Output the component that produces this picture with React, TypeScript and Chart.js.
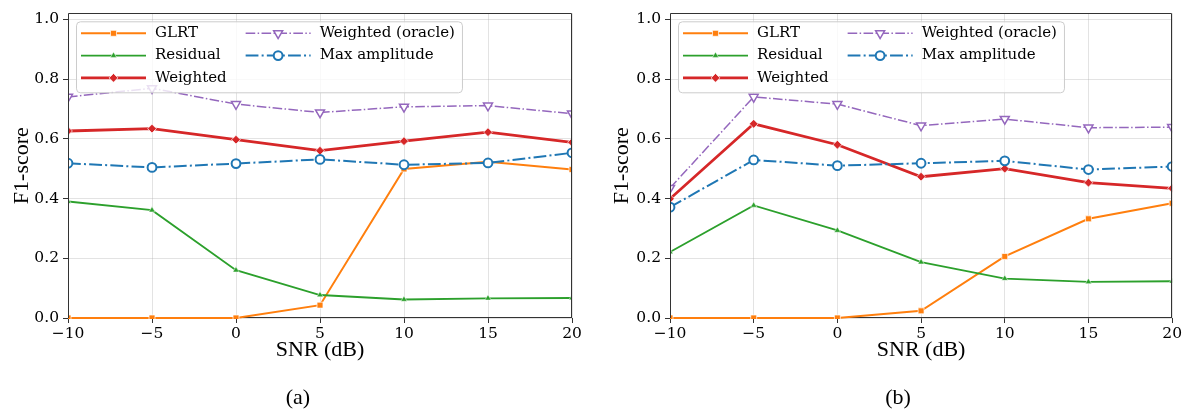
import React, { useEffect, useRef } from "react";
import { Chart, registerables } from "chart.js";
import { drawPoint } from "chart.js/helpers";

Chart.register(...registerables);

// ---------- data ----------
const SNR = [-10, -5, 0, 5, 10, 15, 20];
const X_TICKS = [-10, -5, 0, 5, 10, 15, 20];
const Y_TICKS = [0, 0.2, 0.4, 0.6, 0.8, 1.0];
const SERIES_LABELS = ["GLRT", "Residual", "Weighted", "Weighted (oracle)", "Max amplitude"];

const A_GLRT = [0, 0, 0, 0.043, 0.499, 0.523, 0.497];
const A_RESIDUAL = [0.39, 0.361, 0.16, 0.077, 0.062, 0.066, 0.067];
const A_WEIGHTED = [0.626, 0.634, 0.597, 0.56, 0.592, 0.622, 0.588];
const A_ORACLE = [0.74, 0.769, 0.716, 0.688, 0.707, 0.711, 0.684];
const A_MAXAMP = [0.518, 0.504, 0.517, 0.531, 0.513, 0.519, 0.553];

const B_GLRT = [0, 0, 0, 0.024, 0.206, 0.332, 0.384];
const B_RESIDUAL = [0.221, 0.377, 0.293, 0.187, 0.132, 0.121, 0.123];
const B_WEIGHTED = [0.399, 0.65, 0.58, 0.473, 0.5, 0.453, 0.434];
const B_ORACLE = [0.435, 0.74, 0.716, 0.644, 0.666, 0.637, 0.639];
const B_MAXAMP = [0.371, 0.529, 0.51, 0.518, 0.526, 0.497, 0.507];

const X_TITLE = "SNR (dB)";
const Y_TITLE = "F1-score";

// ---------- styles ----------
const STYLES = [
  { color: "#ff7f0e", width: 2, dash: [], pointStyle: "rect", radius: 4.2, fill: "#ff7f0e", edge: "#ffffff", edgeW: 0.7, rotation: 0 },
  { color: "#2ca02c", width: 1.8, dash: [], pointStyle: "triangle", radius: 3.6, fill: "#2ca02c", edge: "#ffffff", edgeW: 0.5, rotation: 0 },
  { color: "#d62728", width: 2.8, dash: [], pointStyle: "rectRot", radius: 4.4, fill: "#d62728", edge: "#ffffff", edgeW: 0.7, rotation: 0 },
  { color: "#9467bd", width: 1.5, dash: [9.6, 2.4, 1.5, 2.4], pointStyle: "triangle", radius: 5.2, fill: "#ffffff", edge: "#9467bd", edgeW: 1.5, rotation: 180 },
  { color: "#1f77b4", width: 2, dash: [12.8, 3.2, 2, 3.2], pointStyle: "circle", radius: 4.4, fill: "#ffffff", edge: "#1f77b4", edgeW: 2, rotation: 0 },
];

const TICK_FONT = { family: '"DejaVu Serif"', size: 15.5 };
const TITLE_FONT = { family: '"Liberation Serif"', size: 22 };

const fmtX = (v: number) => (v < 0 ? "\u2212" + Math.abs(v) : String(v));

const framePlugin = {
  id: "frame",
  beforeDatasetsDraw(chart: any) {
    const { ctx, chartArea: ca } = chart;
    ctx.save();
    ctx.strokeStyle = "#333333";
    ctx.lineWidth = 1;
    ctx.setLineDash([]);
    const b = Math.round(ca.bottom) - 0.5;
    ctx.beginPath();
    ctx.moveTo(Math.round(ca.left), b);
    ctx.lineTo(Math.round(ca.right), b);
    ctx.stroke();
    ctx.restore();
  },
  afterDatasetsDraw(chart: any) {
    const { ctx, chartArea: ca } = chart;
    ctx.save();
    ctx.strokeStyle = "#333333";
    ctx.lineWidth = 1;
    ctx.setLineDash([]);
    const l = Math.round(ca.left) + 0.5;
    const r = Math.round(ca.right) - 0.5;
    const t = Math.round(ca.top) + 0.5;
    const b = Math.round(ca.bottom);
    ctx.beginPath();
    ctx.moveTo(l, b);
    ctx.lineTo(l, t);
    ctx.lineTo(r, t);
    ctx.lineTo(r, b);
    ctx.stroke();
    ctx.restore();
  },
};

const legendPlugin = {
  id: "mplLegend",
  afterDraw(chart: any) {
    const { ctx, chartArea: ca } = chart;
    const ds = chart.data.datasets;
    ctx.save();
    ctx.font = '15px "DejaVu Serif"';
    const columns = [[0, 1, 2], [3, 4]];
    const handleLen = 65;
    const handleGap = 9;
    const padL = 5;
    const padR = 7;
    const colGap = 19;
    const rowH = 22.3;
    const firstRow = 12;
    const boxX = ca.left + 8;
    const boxY = ca.top + 8;
    const colW = columns.map((c) => handleLen + handleGap + Math.max(...c.map((i) => ctx.measureText(ds[i].label).width)));
    const boxW = padL + colW[0] + colGap + colW[1] + padR;
    const boxH = 71;
    ctx.beginPath();
    ctx.roundRect(boxX + 0.5, boxY + 0.5, boxW, boxH, 4);
    ctx.fillStyle = "rgba(255,255,255,0.8)";
    ctx.fill();
    ctx.strokeStyle = "#cccccc";
    ctx.lineWidth = 1;
    ctx.stroke();
    let xOff = boxX + padL;
    columns.forEach((col, ci) => {
      col.forEach((i, ri) => {
        const d = ds[i];
        const cy = boxY + firstRow + ri * rowH;
        ctx.beginPath();
        ctx.strokeStyle = d.borderColor;
        ctx.lineWidth = d.borderWidth;
        ctx.setLineDash(d.borderDash || []);
        ctx.moveTo(xOff, cy);
        ctx.lineTo(xOff + handleLen, cy);
        ctx.stroke();
        ctx.setLineDash([]);
        ctx.fillStyle = d.pointBackgroundColor;
        ctx.strokeStyle = d.pointBorderColor;
        ctx.lineWidth = d.pointBorderWidth;
        drawPoint(ctx, { pointStyle: d.pointStyle, rotation: d.pointRotation || 0, radius: d.pointRadius, borderWidth: d.pointBorderWidth }, xOff + handleLen / 2, cy);
        ctx.fillStyle = "#000000";
        ctx.textBaseline = "middle";
        ctx.textAlign = "left";
        ctx.fillText(d.label, xOff + handleLen + handleGap, cy);
      });
      xOff += colW[ci] + colGap;
    });
    ctx.restore();
  },
};

function makeDatasets(series: number[][]) {
  return series.map((vals, i) => {
    const s = STYLES[i];
    return {
      label: SERIES_LABELS[i],
      data: SNR.map((x, j) => ({ x, y: vals[j] })),
      borderColor: s.color,
      borderWidth: s.width,
      borderDash: s.dash,
      pointStyle: s.pointStyle,
      pointRadius: s.radius,
      pointBackgroundColor: s.fill,
      pointBorderColor: s.edge,
      pointBorderWidth: s.edgeW,
      pointRotation: s.rotation,
      tension: 0,
      fill: false,
      clip: { left: 0, top: 0, right: 0, bottom: 1 },
      order: 10 - i,
    };
  });
}

function makeConfig(series: number[][], yAxisWidth: number, padRight: number): any {
  return {
    type: "line",
    data: { datasets: makeDatasets(series) },
    plugins: [framePlugin, legendPlugin],
    options: {
      responsive: false,
      animation: false,
      events: [],
      layout: { padding: { left: 0, right: padRight, top: 13, bottom: 40 } },
      plugins: { legend: { display: false }, tooltip: { enabled: false }, title: { display: false } },
      scales: {
        x: {
          type: "linear",
          min: -10,
          max: 20,
          afterBuildTicks: (s: any) => {
            s.ticks = X_TICKS.map((v) => ({ value: v }));
          },
          afterFit: (s: any) => {
            s.height = 52;
          },
          ticks: { font: TICK_FONT, color: "#000000", padding: 2, maxRotation: 0, autoSkip: false, callback: (v: number) => fmtX(v) },
          grid: { color: "rgba(176,176,176,0.35)", tickColor: "#333333", tickLength: 5, lineWidth: 1 },
          border: { display: false },
          title: { display: true, text: X_TITLE, font: TITLE_FONT, color: "#000000", padding: { top: 0, bottom: 7 } },
        },
        y: {
          type: "linear",
          min: 0,
          max: 1.02,
          afterBuildTicks: (s: any) => {
            s.ticks = Y_TICKS.map((v) => ({ value: v }));
          },
          afterFit: (s: any) => {
            s.width = yAxisWidth;
          },
          ticks: { font: TICK_FONT, color: "#000000", padding: 4, callback: (v: number) => v.toFixed(1) },
          grid: { color: "rgba(176,176,176,0.35)", tickColor: "#333333", tickLength: 5, lineWidth: 1 },
          border: { display: false },
          title: { display: true, text: Y_TITLE, font: TITLE_FONT, color: "#000000", padding: { top: 9, bottom: 0 } },
        },
      },
    },
  };
}

function Panel(props: { series: number[][]; left: number; width: number; yAxisWidth: number; padRight: number; caption: string; captionX: number }) {
  const ref = useRef<HTMLCanvasElement | null>(null);
  useEffect(() => {
    if (!ref.current) return;
    const chart = new Chart(ref.current, makeConfig(props.series, props.yAxisWidth, props.padRight));
    return () => chart.destroy();
  }, []);
  return (
    <>
      <canvas ref={ref} width={props.width} height={410} style={{ position: "absolute", left: props.left, top: 0, width: props.width, height: 410, display: "block" }} />
      <div
        style={{
          position: "absolute",
          left: props.captionX - 40,
          width: 80,
          top: 384,
          textAlign: "center",
          fontFamily: '"Liberation Serif", serif',
          fontSize: 22,
          lineHeight: "26px",
          color: "#000",
        }}
      >
        {props.caption}
      </div>
    </>
  );
}

export default function App() {
  return (
    <div style={{ position: "absolute", left: 0, top: 0, width: 1184, height: 410, background: "#fff", overflow: "hidden" }}>
      <Panel series={[A_GLRT, A_RESIDUAL, A_WEIGHTED, A_ORACLE, A_MAXAMP]} left={0} width={600} yAxisWidth={68} padRight={28} caption="(a)" captionX={298} />
      <Panel series={[B_GLRT, B_RESIDUAL, B_WEIGHTED, B_ORACLE, B_MAXAMP]} left={600} width={584} yAxisWidth={70} padRight={11} caption="(b)" captionX={898} />
    </div>
  );
}
